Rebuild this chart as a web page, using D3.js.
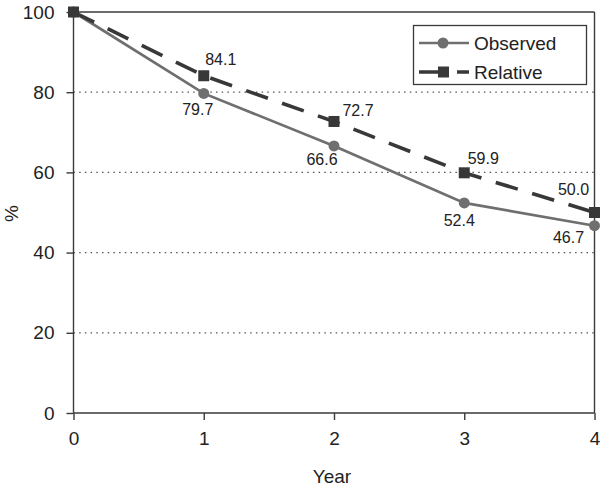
<!DOCTYPE html>
<html><head><meta charset="utf-8">
<script src="https://cdn.jsdelivr.net/npm/d3@7"></script>
<style>body{margin:0;background:#fff}svg{display:block}text{font-family:"Liberation Sans",Arial,sans-serif}</style>
</head><body>
<svg id="c" width="600" height="487"></svg>
<script>
const years = [0, 1, 2, 3, 4];
const observed = [100, 79.7, 66.6, 52.4, 46.7];
const relative = [100, 84.1, 72.7, 59.9, 50.0];
const obsLabels = ["", "79.7", "66.6", "52.4", "46.7"];
const relLabels = ["", "84.1", "72.7", "59.9", "50.0"];
const yTicks = [0, 20, 40, 60, 80, 100];
const seriesNames = ["Observed", "Relative"];

const svg = d3.select("#c");
const L = 73.5, R = 594.5, T = 12, B = 413;
const x = d3.scaleLinear().domain([0, 4]).range([L, R]);
const y = d3.scaleLinear().domain([0, 100]).range([B, T]);
const obsColor = "#6f6f6f", relColor = "#383838", axisColor = "#3a3a3a";

// gridlines
svg.append("g").selectAll("line").data([20, 40, 60, 80]).join("line")
  .attr("x1", L).attr("x2", R).attr("y1", d => y(d)).attr("y2", d => y(d))
  .attr("stroke", "#555").attr("stroke-width", 1.3).attr("stroke-dasharray", "1.5,4.2");
// top/right border
svg.append("line").attr("x1", L).attr("x2", R).attr("y1", T).attr("y2", T).attr("stroke", axisColor).attr("stroke-width", 1.4);
svg.append("line").attr("x1", R).attr("x2", R).attr("y1", T).attr("y2", B).attr("stroke", axisColor).attr("stroke-width", 1.4);

const yAxis = svg.append("g").attr("transform", `translate(${L},0)`)
  .call(d3.axisLeft(y).tickValues(yTicks).tickSize(7).tickPadding(12).tickFormat(d3.format("d")));
const xAxis = svg.append("g").attr("transform", `translate(0,${B})`)
  .call(d3.axisBottom(x).tickValues(years).tickSize(7).tickPadding(12).tickFormat(d3.format("d")));
[yAxis, xAxis].forEach(a => {
  a.select(".domain").attr("stroke", axisColor).attr("stroke-width", 1.4);
  a.selectAll(".tick line").attr("stroke", axisColor).attr("stroke-width", 1.4);
  a.selectAll("text").attr("font-size", 19).attr("fill", "#222").attr("font-family", "Liberation Sans, Arial, sans-serif");
});
xAxis.select(".domain").attr("d", `M${L},0H${R}`);
yAxis.select(".domain").attr("d", `M0,${B}V${T}`);

// axis titles
svg.append("text").attr("x", x(2) - 2).attr("y", 483).attr("text-anchor", "middle").attr("font-size", 19).attr("fill", "#222").text("Year");
svg.append("text").attr("transform", `translate(18,${y(50) + 1}) rotate(-90)`).attr("text-anchor", "middle").attr("font-size", 19).attr("fill", "#222").text("%");

const line = d3.line().x((d, i) => x(years[i])).y(d => y(d));
svg.append("path").datum(observed).attr("d", line).attr("fill", "none").attr("stroke", obsColor).attr("stroke-width", 2.7);
svg.append("path").datum(relative).attr("d", line).attr("fill", "none").attr("stroke", relColor).attr("stroke-width", 3.6).attr("stroke-dasharray", "23,15");

svg.append("g").selectAll("circle").data(observed).join("circle")
  .attr("cx", (d, i) => x(years[i])).attr("cy", d => y(d)).attr("r", 5.5).attr("fill", obsColor);
svg.append("g").selectAll("rect").data(relative).join("rect")
  .attr("x", (d, i) => x(years[i]) - 5.5).attr("y", d => y(d) - 5.5).attr("width", 11).attr("height", 11).attr("fill", relColor);

// data labels
const relOff = [[0,0],[17,-11],[24,-5],[19,-9],[-21,-18]];
const obsOff = [[0,0],[-6,22],[-12,19],[-5,23],[-26,17]];
svg.append("g").selectAll("text").data(relative).join("text")
  .attr("x", (d, i) => x(years[i]) + relOff[i][0]).attr("y", (d, i) => y(d) + relOff[i][1])
  .attr("text-anchor", "middle").attr("font-size", 16).attr("fill", "#222").text((d, i) => relLabels[i]);
svg.append("g").selectAll("text").data(observed).join("text")
  .attr("x", (d, i) => x(years[i]) + obsOff[i][0]).attr("y", (d, i) => y(d) + obsOff[i][1])
  .attr("text-anchor", "middle").attr("font-size", 16).attr("fill", "#222").text((d, i) => obsLabels[i]);

// legend
const lg = svg.append("g");
lg.append("rect").attr("x", 413.5).attr("y", 25.5).attr("width", 173).attr("height", 59).attr("fill", "#fff").attr("stroke", axisColor).attr("stroke-width", 1.3);
const items = [{name: seriesNames[0], c: obsColor, dash: null, shape: "circle", w: 2.7}, {name: seriesNames[1], c: relColor, dash: "29,9,13", shape: "rect", w: 3.6}];
items.forEach((it, i) => {
  const cy = 43 + i * 29;
  lg.append("line").attr("x1", 419).attr("x2", 469).attr("y1", cy).attr("y2", cy).attr("stroke", it.c).attr("stroke-width", it.w).attr("stroke-dasharray", it.dash);
  if (it.shape === "circle") lg.append("circle").attr("cx", 443).attr("cy", cy).attr("r", 5.5).attr("fill", it.c);
  else lg.append("rect").attr("x", 438).attr("y", cy - 5.5).attr("width", 11).attr("height", 11).attr("fill", it.c);
  lg.append("text").attr("x", 474).attr("y", cy + 7).attr("font-size", 19).attr("fill", "#222").text(it.name);
});
</script>
</body></html>
